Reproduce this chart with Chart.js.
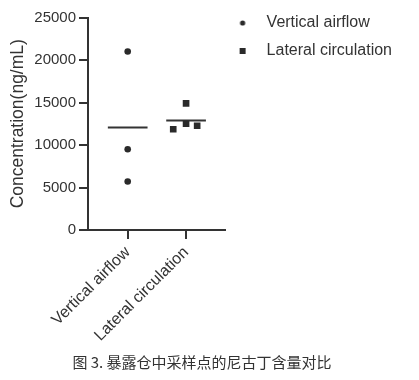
<!DOCTYPE html>
<html>
<head>
<meta charset="utf-8">
<script src="https://cdn.jsdelivr.net/npm/chart.js@4.4.1/dist/chart.umd.min.js"></script>
<style>
  html, body { margin: 0; padding: 0; background: #ffffff; }
  #wrap { width: 419px; height: 380px; }
</style>
</head>
<body>
<div id="wrap"><canvas id="c" width="419" height="380"></canvas></div>
<script>
// ---- data ----
const categories = ['Vertical airflow', 'Lateral circulation'];
const verticalAirflow = [21000, 9500, 5700];
const lateralCirculation = [11850, 12500, 14900, 12270];
const yTicks = [0, 5000, 10000, 15000, 20000, 25000];
const caption = '图 3. 暴露仓中采样点的尼古丁含量对比';

// ---- presentation ----
const FONT = "'Liberation Sans', Arial, sans-serif";
const INK = '#333333';
const DOT = '#2a2a2a';
// horizontal spread of the dot plot (beeswarm-style layout)
const spread = [[0, 0, 0], [-0.22, 0, 0, 0.19]];
const MEAN_HALF = 0.34;

function mean(a) { return a.reduce((s, v) => s + v, 0) / a.length; }
function pts(vals, ci) { return vals.map((v, i) => ({ x: ci + 1 + spread[ci][i], y: v })); }
function meanLine(vals, ci) {
  const m = mean(vals);
  return [{ x: ci + 1 - MEAN_HALF, y: m }, { x: ci + 1 + MEAN_HALF, y: m }];
}

function legendMarker(kind) {
  const c = document.createElement('canvas');
  c.width = 22; c.height = 10;
  const g = c.getContext('2d');
  g.fillStyle = DOT;
  if (kind === 'circle') { g.beginPath(); g.arc(6, 5, 2.6, 0, Math.PI * 2); g.fill(); }
  else { g.fillRect(3, 2, 6, 6); }
  return c;
}
const markers = [legendMarker('circle'), legendMarker('rect')];

const datasets = [
  { type: 'scatter', label: categories[0], data: pts(verticalAirflow, 0),
    pointStyle: 'circle', pointRadius: 3.3, backgroundColor: DOT, borderWidth: 0 },
  { type: 'scatter', label: categories[1], data: pts(lateralCirculation, 1),
    pointStyle: 'rect', pointRadius: 4.7, backgroundColor: DOT, borderWidth: 0 },
  { type: 'line', label: 'mean1', data: meanLine(verticalAirflow, 0),
    borderColor: INK, borderWidth: 2, pointRadius: 0, fill: false },
  { type: 'line', label: 'mean2', data: meanLine(lateralCirculation, 1),
    borderColor: INK, borderWidth: 2, pointRadius: 0, fill: false }
];

new Chart(document.getElementById('c'), {
  type: 'scatter',
  data: { datasets },
  options: {
    responsive: false,
    animation: false,
    events: [],
    layout: { padding: { left: 2, right: 17, top: 0, bottom: 0 } },
    scales: {
      x: {
        type: 'linear', min: 0.32, max: 2.66,
        afterBuildTicks: s => { s.ticks = categories.map((c, i) => ({ value: i + 1 })); },
        afterFit: s => { s.height = 123; s.paddingLeft = 0; s.paddingRight = 0; },
        ticks: {
          callback: v => categories[Math.round(v) - 1] || '',
          autoSkip: false, minRotation: 45, maxRotation: 45, padding: 4,
          color: INK, font: { family: FONT, size: 16 }
        },
        grid: { display: true, drawOnChartArea: false, drawTicks: true, tickLength: 9, color: INK, lineWidth: 2 },
        border: { display: true, color: INK, width: 2 }
      },
      y: {
        type: 'linear', min: 0, max: 25000,
        afterBuildTicks: s => { s.ticks = yTicks.map(v => ({ value: v })); },
        afterFit: s => { s.width = 86; s.paddingTop = 17.5; s.paddingBottom = 0; },
        ticks: { callback: v => String(v), color: INK, padding: 3, font: { family: FONT, size: 15 } },
        grid: { display: true, drawOnChartArea: false, drawTicks: true, tickLength: 9, color: INK, lineWidth: 2 },
        border: { display: true, color: INK, width: 2 },
        title: { display: true, text: 'Concentration(ng/mL)', color: INK,
                 font: { family: FONT, size: 17.5 }, padding: { top: 6, bottom: 0 } }
      }
    },
    plugins: {
      tooltip: { enabled: false },
      legend: {
        display: true, position: 'right', align: 'start', fullSize: true, maxWidth: 178,
        title: { display: true, text: ' ', font: { size: 1, lineHeight: 1 }, padding: { top: 2, bottom: 0 } },
        labels: {
          usePointStyle: true, pointStyleWidth: 22, padding: 12,
          color: INK, font: { family: FONT, size: 16 },
          generateLabels: () => categories.map((t, i) => ({
            text: t, pointStyle: markers[i], fillStyle: DOT, strokeStyle: DOT,
            lineWidth: 0, hidden: false, datasetIndex: i, fontColor: INK
          }))
        }
      },
      title: {
        display: true, position: 'bottom', align: 'center', text: caption, color: INK,
        font: { family: "'Noto Sans CJK SC', sans-serif", size: 15, weight: 'normal', lineHeight: 1.2 },
        padding: { top: 0, bottom: 9 }
      }
    }
  }
});
</script>
</body>
</html>
